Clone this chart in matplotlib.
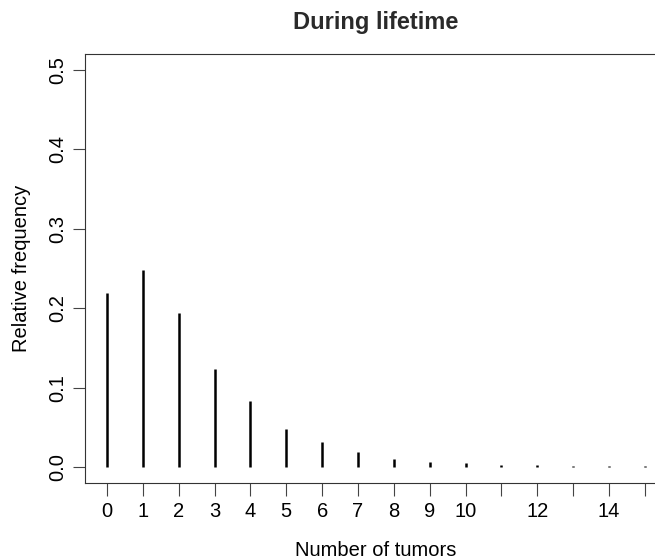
import numpy as np
import matplotlib.pyplot as plt

plt.rcParams['font.family'] = ['Liberation Sans', 'DejaVu Sans']

# relative frequency of tumor counts
tumors = list(range(16))
freq = [0.219, 0.248, 0.194, 0.123, 0.083, 0.048, 0.031, 0.019,
        0.010, 0.006, 0.0045, 0.0025, 0.002, 0.0012, 0.001, 0.001]
xtick_pos = list(range(16))
xtick_labels = ['0', '1', '2', '3', '4', '5', '6', '7', '8', '9', '10',
                '', '12', '', '14', '']
ytick_pos = [0.0, 0.1, 0.2, 0.3, 0.4, 0.5]

fig = plt.figure(figsize=(6.55, 5.59), dpi=100)
ax = fig.add_axes([0.1305, 0.136, 0.887, 0.768])

ax.vlines(tumors, 0, freq, colors='black', linewidth=1.8)

ax.set_xlim(-0.6, 15.6)
ax.set_ylim(-0.02, 0.52)
ax.set_xticks(xtick_pos)
ax.set_xticklabels(xtick_labels)
ax.set_yticks(ytick_pos)
ax.set_yticklabels([f'{v:.1f}' for v in ytick_pos], rotation=90, va='center')

ax.tick_params(direction='out', length=9, width=0.8, color='#444444',
               labelsize=14.5, pad=5)
ax.tick_params(axis='y', pad=4)
for s in ax.spines.values():
    s.set_linewidth(0.8)
    s.set_color('#333333')

ax.set_xlabel('Number of tumors', fontsize=14.5)
ax.xaxis.set_label_coords(0.5, -0.134)
ax.set_ylabel('Relative frequency', fontsize=14.5)
ax.yaxis.set_label_coords(-0.094, 0.5)
ax.set_title('During lifetime', fontsize=17, fontweight='bold', pad=18,
             color='#2a2a2a')

fig.savefig('out.png', dpi=100)
